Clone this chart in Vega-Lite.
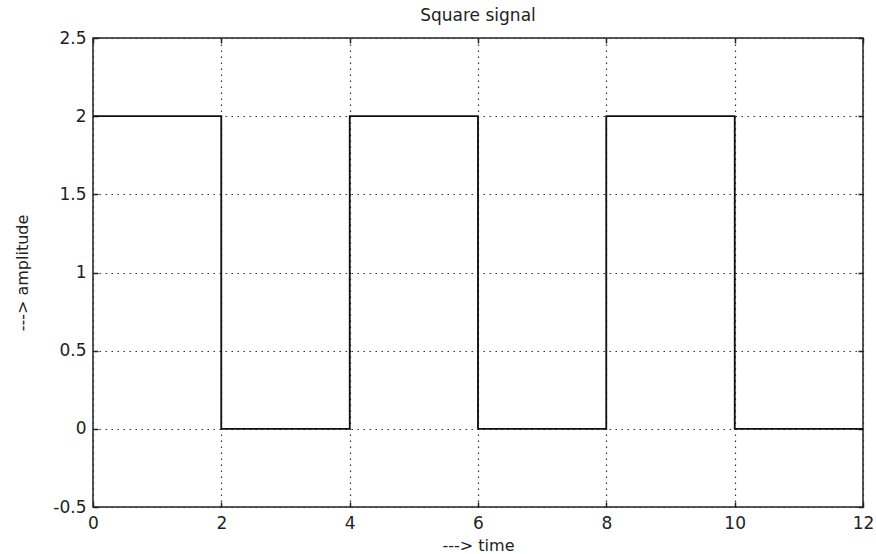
{
  "$schema": "https://vega.github.io/schema/vega-lite/v6.json",
  "width": 770,
  "height": 469,
  "autosize": {"type": "none"},
  "padding": {"left": 93, "top": 38, "right": 13, "bottom": 47},
  "background": "white",
  "config": {
    "font": "DejaVu Sans",
    "view": {"stroke": "#222222", "strokeWidth": 1.5},
    "axis": {
      "domain": false,
      "tickColor": "#222222",
      "tickWidth": 1.5,
      "tickSize": -5,
      "labelColor": "#222222",
      "labelFontSize": 17,
      "labelFont": "DejaVu Sans",
      "titleFont": "DejaVu Sans",
      "titleFontWeight": "normal",
      "titleColor": "#222222",
      "titleFontSize": 16,
      "grid": false
    }
  },
  "title": {
    "text": "Square signal",
    "font": "DejaVu Sans",
    "fontSize": 17,
    "fontWeight": "normal",
    "color": "#222222",
    "offset": 4
  },
  "data": {
    "values": [
      {"time": 0, "amplitude": 2},
      {"time": 2, "amplitude": 0},
      {"time": 4, "amplitude": 2},
      {"time": 6, "amplitude": 0},
      {"time": 8, "amplitude": 2},
      {"time": 10, "amplitude": 0},
      {"time": 12, "amplitude": 0}
    ]
  },
  "layer": [
    {
      "mark": {"type": "line", "interpolate": "step-after", "color": "#111111", "strokeWidth": 1.5},
      "encoding": {
        "x": {
          "field": "time",
          "type": "quantitative",
          "scale": {"domain": [0, 12], "nice": false, "zero": false},
          "axis": {
            "orient": "bottom",
            "title": "---> time",
            "values": [0, 2, 4, 6, 8, 10, 12],
            "grid": true,
            "gridColor": "#333333",
            "gridDash": [1.5, 4.5],
            "gridWidth": 1.2,
            "labelPadding": 13,
            "labelFlush": false,
            "titlePadding": 6
          }
        },
        "y": {
          "field": "amplitude",
          "type": "quantitative",
          "scale": {"domain": [-0.5, 2.5], "nice": false, "zero": false},
          "axis": {
            "orient": "left",
            "title": "---> amplitude",
            "values": [-0.5, 0, 0.5, 1, 1.5, 2, 2.5],
            "labelExpr": "'' + datum.value",
            "grid": true,
            "gridColor": "#333333",
            "gridDash": [1.5, 4.5],
            "gridWidth": 1.2,
            "labelPadding": 12,
            "labelFlush": false,
            "titlePadding": 22
          }
        }
      }
    },
    {
      "mark": {"type": "line", "interpolate": "step-after", "color": "#111111", "strokeWidth": 1.5},
      "encoding": {
        "x": {
          "field": "time",
          "type": "quantitative",
          "axis": {"orient": "top", "title": null, "labels": false, "values": [0, 2, 4, 6, 8, 10, 12]}
        },
        "y": {
          "field": "amplitude",
          "type": "quantitative",
          "axis": {"orient": "right", "title": null, "labels": false, "values": [-0.5, 0, 0.5, 1, 1.5, 2, 2.5]}
        }
      }
    }
  ],
  "resolve": {"axis": {"x": "independent", "y": "independent"}}
}
